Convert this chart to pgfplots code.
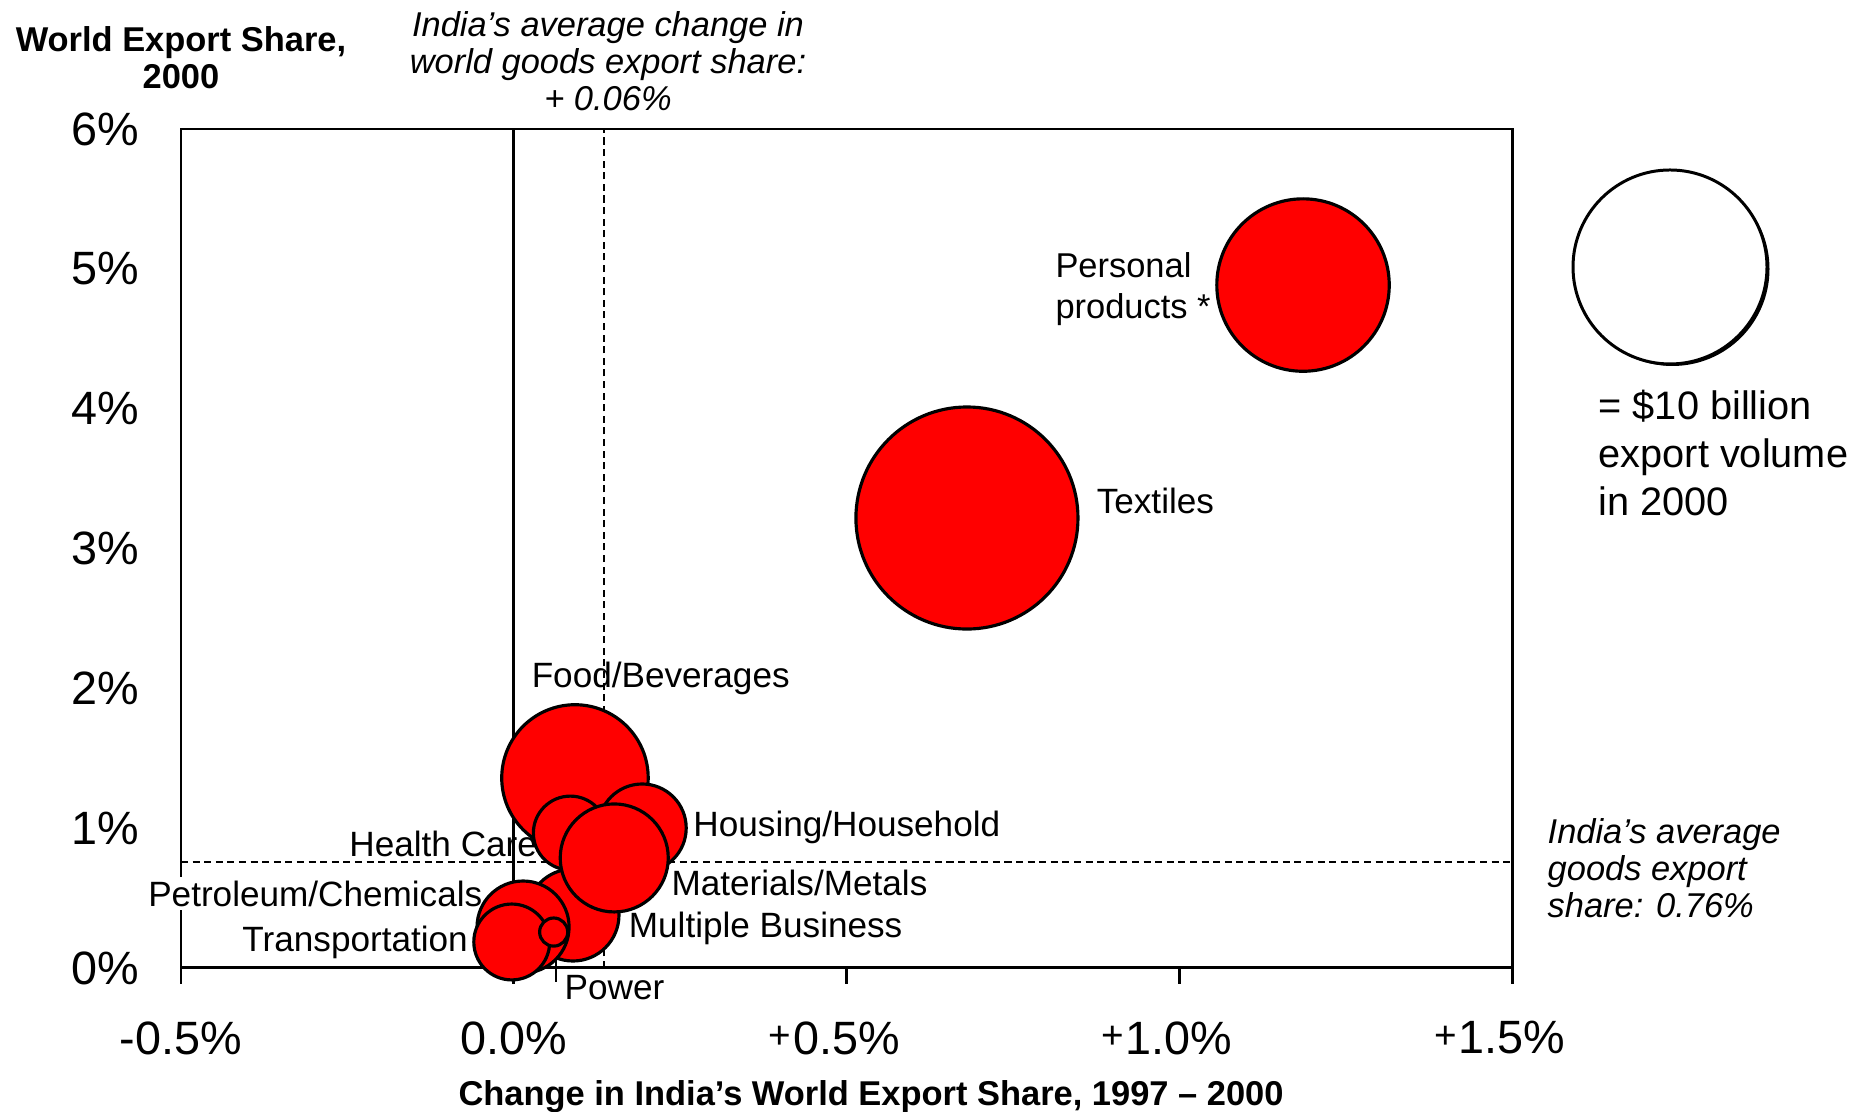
\documentclass[border=0pt]{standalone}
\usepackage{fontspec}
\setmainfont{Liberation Sans}
\usepackage{pgfplots}
\pgfplotsset{compat=1.18}
\usepackage{pgfplotstable}

% x = change in India's world export share 1997-2000 (%), y = world export share 2000 (%), v = export volume 2000 (bn USD)
\pgfplotstableread{
x y v
0.681 3.218 13.1
1.186 4.884 7.9
0.092 1.359 5.7
0.193 1.001 2.06
0.085 0.965 1.45
0.089 0.379 2.25
0.151 0.787 3.1
0.014 0.293 2.25
-0.003 0.186 1.53
0.060 0.257 0.21
}\bubbles

\newcommand{\plussign}{\llap{{\fontsize{11}{11}\selectfont\raisebox{1.7pt}{+}}\hspace{0.6pt}}}

\begin{document}
\begin{tikzpicture}
\path[use as bounding box] (0,0) rectangle (18.7,11.12);
\begin{axis}[
  at={(1.81cm,1.44cm)}, anchor=south west,
  scale only axis, width=13.31cm, height=8.39cm,
  xmin=-0.5, xmax=1.5, ymin=0, ymax=6,
  xtick={-0.5,0,0.5,1,1.5},
  xticklabels={-0.5\%,0.0\%,{\plussign0.5\%},{\plussign1.0\%},{\plussign1.5\%}},
  ytick={0,1,2,3,4,5,6},
  yticklabels={0\%,1\%,2\%,3\%,4\%,5\%,6\%},
  xtick pos=bottom, ytick pos=left,
  tick align=outside, major tick length=0.16cm,
  ytick style={draw=none},
  xtick style={black, line width=0.85pt},
  axis line style={line width=0.85pt},
  tick label style={font=\fontsize{13.3}{16}\selectfont},
  xticklabel style={anchor=center, yshift=-0.54cm},
  yticklabel style={anchor=east, inner sep=0pt, xshift=-0.25cm},
  clip mode=individual,
  every node/.style={font=\fontsize{9.8}{11.5}\selectfont},
]
% reference lines
\draw[line width=0.85pt] (axis cs:0,0) -- (axis cs:0,6);
\draw[line width=0.65pt, dash pattern=on 2pt off 1.3pt] (axis cs:0.1356,0) -- (axis cs:0.1356,6);
\draw[line width=0.65pt, dash pattern=on 2pt off 1.3pt] (axis cs:-0.5,0.76) -- (axis cs:1.5,0.76);
% labels
\node[anchor=west, align=left, inner sep=0pt, font=\fontsize{9.8}{11.8}\selectfont] at (axis cs:0.813,4.855) {Personal\\products *};
\node[anchor=west, inner sep=0pt] at (axis cs:0.875,3.338) {Textiles};
\node[anchor=west, inner sep=0pt] at (axis cs:0.026,2.07) {Food/Beverages};
\node[anchor=west, inner sep=0pt] at (axis cs:0.269,1.005) {Housing/Household};
\node[anchor=east, inner sep=0pt] at (axis cs:0.036,0.885) {Health Care};
\node[anchor=west, inner sep=0pt] at (axis cs:0.236,0.605) {Materials/Metals};
\node[anchor=west, inner sep=1pt, fill=white] at (axis cs:-0.5555,0.53) {Petroleum/Chemicals};
\node[anchor=west, inner sep=0pt] at (axis cs:0.172,0.285) {Multiple Business};
\node[anchor=east, inner sep=0pt] at (axis cs:-0.068,0.18) {Transportation};
\node[anchor=west, inner sep=0pt] at (axis cs:0.0755,-0.14) {Power};
\draw[line width=0.6pt] (axis cs:0.0635,0.179) -- (axis cs:0.0635,-0.100);
% bubbles
\addplot[scatter, only marks, mark=*,
  visualization depends on={27.6*sqrt(\thisrow{v}/10) \as \rad},
  scatter/use mapped color={draw=black, fill=red},
  scatter/@pre marker code/.append style={/tikz/mark size=\rad},
  mark options={line width=0.9pt, draw=black, fill=red}]
  table[x=x, y=y] {\bubbles};
\end{axis}
% axis titles
\node[font=\bfseries\fontsize{9.8}{10.5}\selectfont, align=center] at (1.81,10.54) {World Export Share,\\[0.0cm]2000};
\node[font=\bfseries\fontsize{9.8}{11}\selectfont] at (8.71,0.15) {Change in India’s World Export Share, 1997 – 2000};
% annotations
\node[font=\itshape\fontsize{9.8}{10.6}\selectfont, align=center] at (6.08,10.51) {India’s average change in\\world goods export share:\\+ 0.06\%};
\node[font=\itshape\fontsize{9.8}{10.6}\selectfont, align=left, anchor=west, inner sep=0pt] at (15.47,2.44) {India’s average\\goods export\\share: 0.76\%};
% size key
\fill[black] (16.725,8.43) circle (0.97);
\draw[fill=white, line width=0.85pt] (16.70,8.45) circle (0.97);
\node[font=\fontsize{11.3}{13.7}\selectfont, align=left, anchor=west, inner sep=0pt] at (15.98,6.59) {= \$10 billion\\export volume\\in 2000};
\end{tikzpicture}
\end{document}
